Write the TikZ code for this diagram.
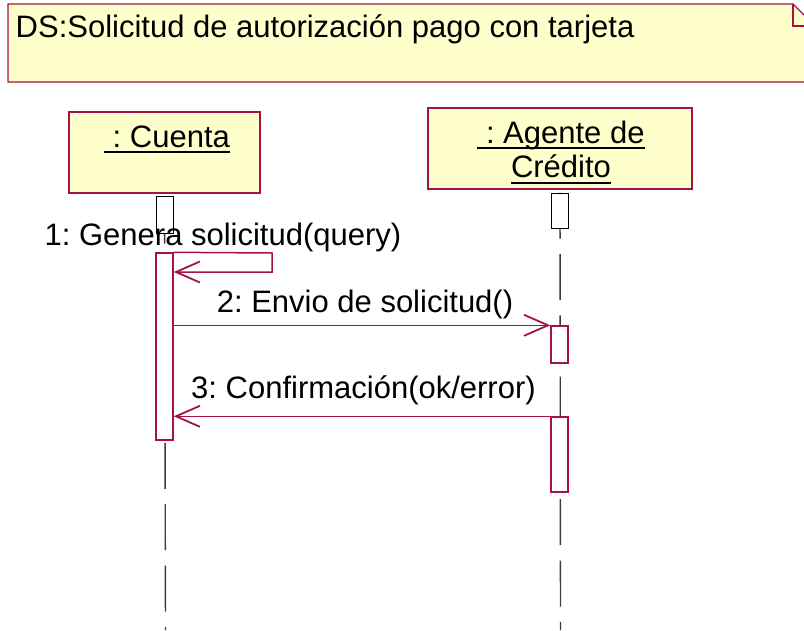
\documentclass[tikz,border=0pt]{standalone}
\usepackage{fontspec}
\setmainfont{Liberation Sans}
\usetikzlibrary{arrows.meta}
\definecolor{umlred}{RGB}{165,18,68}
\definecolor{umlfill}{RGB}{255,255,204}
\definecolor{lifegray}{RGB}{60,60,60}
\frenchspacing
\tikzset{
  objbox/.style={draw=umlred, fill=umlfill, line width=1.4pt, rectangle, inner sep=0pt},
  topbox/.style={draw=black, fill=white, line width=1pt, rectangle, inner sep=0pt, minimum width=17pt},
  actbox/.style={draw=umlred, fill=white, line width=1.4pt, rectangle, inner sep=0pt, minimum width=17pt},
  lifeline/.style={draw=lifegray, line width=1.4pt, dash pattern=on 46pt off 15.3pt},
  msg/.style={draw=umlred, line width=1.5pt, -{Straight Barb[length=24pt,width=21pt,line width=1.8pt]}},
  txt/.style={font=\fontsize{31}{34}\selectfont\frenchspacing, inner sep=0pt, anchor=base},
  uline/.style={line width=2.5pt, draw=black}
}
\begin{document}
\begin{tikzpicture}[x=1pt,y=-1pt]
\useasboundingbox (0,0) rectangle (804,630);
% note
\path[draw=umlred, fill=umlfill, line width=1.4pt] (8,4) coordinate (n1) -- (793,4) coordinate (nf) -- (815,26) coordinate (nr) -- (815,82) -- (8,82) -- cycle;
\draw[umlred, line width=1.4pt] (nf) -- (793,26) -- (nr);
\node[txt, anchor=base west] (title) at (15.5,37) {DS:Solicitud de autorización pago con tarjeta};

% objects
\node[objbox, minimum width=191pt, minimum height=81pt] (cu) at (164.5,152.5) {};
\node[objbox, minimum width=264pt, minimum height=81pt] (ag) at (560,148.5) {};
\node[txt] (cut) at (167,147) {\ : Cuenta};
\draw[uline] ([yshift=-5pt]cut.base west) -- ([yshift=-5pt]cut.base east);
\node[txt] (agt1) at (561,143) {\ : Agente de\ };
\draw[uline] ([yshift=-5pt]agt1.base west) -- ([yshift=-5pt]agt1.base east);
\node[txt] (agt2) at (561,177) {Crédito};
\draw[uline] ([yshift=-6pt]agt2.base west) -- ([yshift=-6pt]agt2.base east);

% lifelines
\coordinate (cuend) at (165.5,630);
\coordinate (agend) at (560.5,630);
\draw[lifeline] ([yshift=-4pt]cu.south) -- (cuend);
\draw[lifeline] ([yshift=-3pt]ag.south) -- (agend);

% top boxes
\node[topbox, minimum height=37pt] (cutop) at (164.5,214.5) {};
\node[topbox, minimum height=35pt] (agtop) at (559.5,210.5) {};

% activations
\node[actbox, minimum height=187pt] (cuact) at (164.5,346.5) {};
\node[actbox, minimum height=37pt] (agact1) at (559.5,344.5) {};
\node[actbox, minimum height=75pt] (agact2) at (559.5,454.5) {};

% messages
\coordinate (s1) at (272,253);
\coordinate (s2) at (272,272);
\draw[msg] (cuact.north east) -- (s1) -- (s2) -- (s2 -| cuact.east);
\draw[msg] (agact1.north west -| cuact.east) -- (agact1.north west);
\draw[msg] (agact2.north west) -- (agact2.north west -| cuact.east);

% labels
\node[txt] (m1) at (223,245) {1: Genera solicitud(query)};
\node[txt] (m2) at (365,312) {2: Envio de solicitud()};
\node[txt] (m3) at (363.5,398) {3: Confirmación(ok/error)};
\end{tikzpicture}
\end{document}
